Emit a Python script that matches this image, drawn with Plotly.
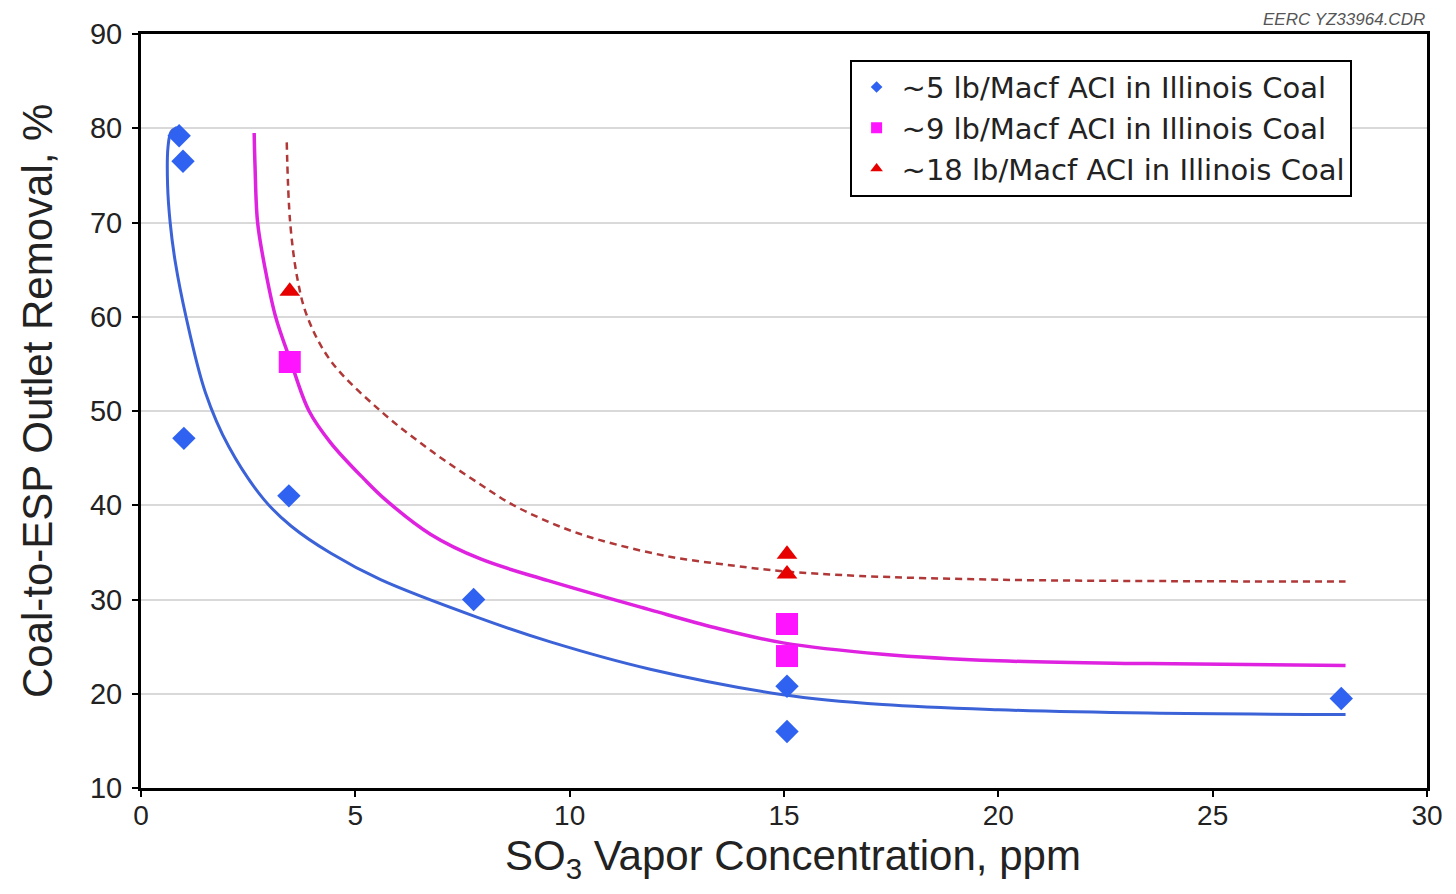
import plotly.graph_objects as go

# ---- data ----
blue_x = [0.89, 0.98, 1.0, 3.45, 7.76, 15.07, 15.07, 28.0]
blue_y = [79.2, 76.5, 47.1, 41.0, 30.0, 20.8, 16.0, 19.5]

mag_x = [3.47, 15.07, 15.07]
mag_y = [55.2, 27.4, 24.0]

red_x = [3.47, 15.07, 15.07]
red_y = [62.7, 34.8, 32.7]

# trend curves
blue_fit_x = [0.84, 0.7, 0.63, 0.62, 0.68, 0.8, 1.05, 1.5, 2.05, 2.87, 3.5, 4.43, 5.59, 7.85, 9.55, 11.88, 14.98, 17.3, 20.0, 23.5, 28.1]
blue_fit_y = [80.1, 79.6, 78.0, 74.0, 70.0, 65.8, 60.0, 52.0, 46.2, 40.6, 37.8, 34.9, 32.1, 28.1, 25.5, 22.6, 19.9, 18.85, 18.3, 17.95, 17.8]

mag_fit_x = [2.64, 2.66, 2.72, 2.9, 3.14, 3.49, 3.92, 4.43, 5.2, 5.7, 6.76, 7.92, 9.5, 11.88, 13.4, 14.98, 17.3, 20.0, 23.5, 28.1]
mag_fit_y = [79.5, 76.0, 70.0, 65.0, 60.0, 55.3, 50.0, 46.6, 42.8, 40.6, 36.9, 34.3, 32.0, 28.9, 27.0, 25.4, 24.2, 23.5, 23.2, 23.0]

red_fit_x = [3.40, 3.48, 3.65, 3.88, 4.43, 5.59, 6.76, 7.92, 8.69, 9.85, 10.71, 12.27, 13.8, 14.98, 16.77, 20.0, 24.0, 28.1]
red_fit_y = [78.5, 70.0, 64.0, 60.0, 55.3, 50.0, 45.8, 42.2, 40.0, 37.6, 36.3, 34.6, 33.6, 33.0, 32.5, 32.1, 31.95, 31.9]

legend_names = ["~5 lb/Macf ACI in Illinois Coal",
                "~9 lb/Macf ACI in Illinois Coal",
                "~18 lb/Macf ACI in Illinois Coal"]

x_ticks = [0, 5, 10, 15, 20, 25, 30]
y_ticks = [10, 20, 30, 40, 50, 60, 70, 80, 90]

x_title = "SO<sub>3</sub> Vapor Concentration, ppm"
y_title = "Coal-to-ESP Outlet Removal, %"

BLUE = "#2f62f0"
BLUE_LINE = "#3c62d8"
MAG = "#ff14ff"
MAG_LINE = "#de22e0"
RED = "#e60000"
RED_LINE = "#b03838"

fig = go.Figure()

fig.add_trace(go.Scatter(x=blue_fit_x, y=blue_fit_y, mode="lines", line=dict(color=BLUE_LINE, width=3, shape="spline", smoothing=1.0), showlegend=False, hoverinfo="skip"))
fig.add_trace(go.Scatter(x=mag_fit_x, y=mag_fit_y, mode="lines", line=dict(color=MAG_LINE, width=3.5, shape="spline", smoothing=1.0), showlegend=False, hoverinfo="skip"))
fig.add_trace(go.Scatter(x=red_fit_x, y=red_fit_y, mode="lines", line=dict(color=RED_LINE, width=2.5, dash="7px,5px", shape="spline", smoothing=1.0), showlegend=False, hoverinfo="skip"))

fig.add_trace(go.Scatter(x=blue_x, y=blue_y, mode="markers", marker=dict(symbol="diamond", size=18, color=BLUE), showlegend=False))
fig.add_trace(go.Scatter(x=mag_x, y=mag_y, mode="markers", marker=dict(symbol="square", size=22, color=MAG), showlegend=False))
fig.add_trace(go.Scatter(x=red_x, y=red_y, mode="markers", marker=dict(symbol="triangle-up", size=18, color=RED), showlegend=False))

# legend entries with small markers
for name, sym, sz, col in zip(legend_names, ["diamond", "square", "triangle-up"], [9, 11, 11], [BLUE, MAG, RED]):
    fig.add_trace(go.Scatter(x=[None], y=[None], mode="markers", name=name,
                             marker=dict(symbol=sym, size=sz, color=col)))

fig.update_layout(
    width=1440, height=878,
    margin=dict(l=133, r=21, t=26, b=98, autoexpand=False),
    paper_bgcolor="white", plot_bgcolor="white",
    font=dict(family="Liberation Sans, Arial", color="#222"),
    showlegend=True,
    legend=dict(x=0.551, y=0.966, xanchor="left", yanchor="top",
                bordercolor="black", borderwidth=2, bgcolor="white",
                font=dict(family="DejaVu Sans, Liberation Sans", size=29, color="#222"),
                itemsizing="trace", itemwidth=40, tracegroupgap=0),
    xaxis=dict(range=[0, 30], tickvals=x_ticks, ticks="outside", ticklen=6, tickwidth=2,
               tickcolor="black", showline=True, linecolor="black", linewidth=3, mirror=True,
               showgrid=False, zeroline=False, ticklabelstandoff=-6, automargin=False,
               tickfont=dict(family="Liberation Sans, Arial", size=28, color="#222")),
    yaxis=dict(range=[10, 90], tickvals=y_ticks, ticks="outside", ticklen=6, tickwidth=2,
               tickcolor="black", showline=True, linecolor="black", linewidth=3, mirror=True,
               showgrid=True, gridcolor="#d9d9d9", gridwidth=1.5, zeroline=False,
               ticklabelstandoff=4, automargin=False,
               tickfont=dict(family="Liberation Sans, Arial", size=29, color="#222")),
    annotations=[
        dict(text="<i>EERC YZ33964.CDR</i>", xref="paper", yref="paper", x=1.0, y=1.0,
             xanchor="right", yanchor="bottom", yshift=3, showarrow=False,
             font=dict(family="Liberation Sans, Arial", size=17, color="#555")),
        dict(text=x_title, xref="paper", yref="paper", x=0.507, y=-0.094,
             xanchor="center", yanchor="middle", showarrow=False,
             font=dict(family="Liberation Sans, Arial", size=42, color="#222")),
        dict(text=y_title, xref="paper", yref="paper", x=-0.081, y=0.513, textangle=-90,
             xanchor="center", yanchor="middle", showarrow=False,
             font=dict(family="Liberation Sans, Arial", size=42, color="#222")),
    ],
)

fig.write_html("out.html")
